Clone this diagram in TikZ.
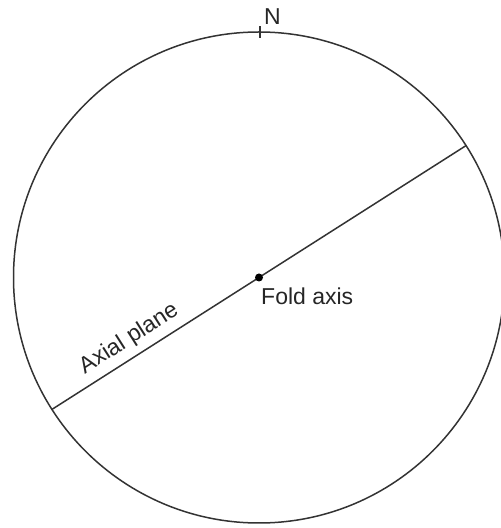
\documentclass[tikz,border=0pt]{standalone}
\usepackage{fontspec}
\setmainfont{Liberation Sans}
\usetikzlibrary{calc}
\begin{document}
\begin{tikzpicture}[x=1pt,y=1pt,
  stroke/.style={line width=1.5pt,draw=black!80},
  lbl/.style={font=\fontsize{23}{27}\selectfont,text=black!85,inner sep=0pt}]
\useasboundingbox (0,0) rectangle (501,528);
\coordinate (C) at (259,250.5);
\def\R{245.5}
\draw[stroke] (C) circle (\R);
\coordinate (NE) at ($(C)+(32.5:\R)$);
\coordinate (SW) at ($(C)+(212.5:\R)$);
\draw[stroke] (SW) -- (NE);
\coordinate (T1) at ($(C)+(1,\R-6)$);
\coordinate (T2) at ($(C)+(1,\R+6)$);
\draw[stroke] (T1) -- (T2);
\node[lbl,anchor=base west] (N) at (264,503) {N};
\fill[black] (C) circle (4);
\node[lbl,anchor=base west] (fold) at (261,223) {Fold axis};
\node[lbl,anchor=base west,rotate=32.5] (axial) at ($(C)+(212.5:199)+(122.5:12)$) {Axial plane};
\end{tikzpicture}
\end{document}
